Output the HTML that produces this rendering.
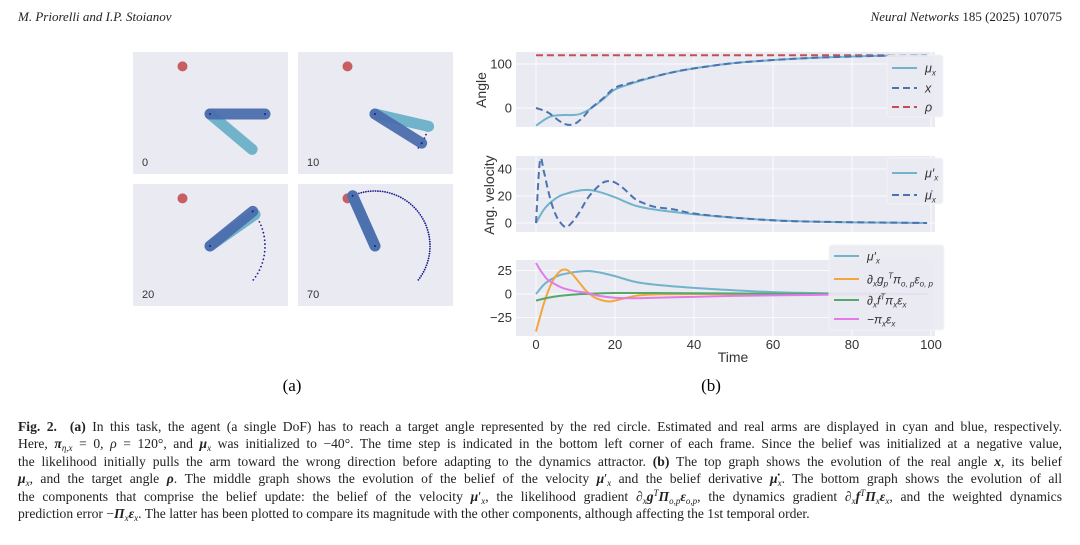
<!DOCTYPE html>
<html><head><meta charset="utf-8">
<style>
html,body{margin:0;padding:0;background:#fff;}
body{width:1080px;height:545px;position:relative;overflow:hidden;font-family:"Liberation Serif",serif;color:#222;}
.hdr{position:absolute;top:9px;font-size:13px;font-style:italic;}
#cap{position:absolute;left:18px;top:418px;width:1044px;font-size:13.6px;line-height:17.4px;}
#cap div{text-align:justify;text-align-last:justify;white-space:nowrap;height:17.4px;}
#cap div.last{text-align-last:left;}
#cap sub,#cap sup{font-size:9px;line-height:0;vertical-align:0;position:relative;}
#cap sub{top:3px;}
#cap sup{top:-5px;}
svg text{font-family:"Liberation Sans","DejaVu Sans",sans-serif;}
</style></head><body>
<div class="hdr" style="left:18px">M. Priorelli and I.P. Stoianov</div>
<div class="hdr" style="right:18px;font-style:normal"><i>Neural Networks</i> 185 (2025) 107075</div>

<svg id="fig" width="1080" height="545" style="position:absolute;left:0;top:0" xmlns="http://www.w3.org/2000/svg">
<g id="frames"></g>
<g id="plots"></g>
<text x="292" y="391" font-size="17" text-anchor="middle" style="font-family:'Liberation Serif',serif">(a)</text>
<text x="711" y="391" font-size="17" text-anchor="middle" style="font-family:'Liberation Serif',serif">(b)</text>
</svg>

<div id="cap">
<div><b>Fig. 2.</b>&nbsp; <b>(a)</b> In this task, the agent (a single DoF) has to reach a target angle represented by the red circle. Estimated and real arms are displayed in cyan and blue, respectively.</div>
<div>Here, <b><i>π</i></b><sub><i>η,x</i></sub> = 0, <i>ρ</i> = 120°, and <b><i>μ</i></b><sub><i>x</i></sub> was initialized to −40°. The time step is indicated in the bottom left corner of each frame. Since the belief was initialized at a negative value,</div>
<div>the likelihood initially pulls the arm toward the wrong direction before adapting to the dynamics attractor. <b>(b)</b> The top graph shows the evolution of the real angle <b><i>x</i></b>, its belief</div>
<div><b><i>μ</i></b><sub><i>x</i></sub>, and the target angle <b><i>ρ</i></b>. The middle graph shows the evolution of the belief of the velocity <b><i>μ</i></b>′<sub><i>x</i></sub> and the belief derivative <b><i>μ̇</i></b><sub><i>x</i></sub>. The bottom graph shows the evolution of all</div>
<div>the components that comprise the belief update: the belief of the velocity <b><i>μ</i></b>′<sub><i>x</i></sub>, the likelihood gradient ∂<sub><i>x</i></sub><b><i>g</i></b><sup><i>T</i></sup><b><i>Π</i></b><sub><i>o,p</i></sub><b><i>ε</i></b><sub><i>o,p</i></sub>, the dynamics gradient ∂<sub><i>x</i></sub><b><i>f</i></b><sup><i>T</i></sup><b><i>Π</i></b><sub><i>x</i></sub><b><i>ε</i></b><sub><i>x</i></sub>, and the weighted dynamics</div>
<div class="last">prediction error −<b><i>Π</i></b><sub><i>x</i></sub><b><i>ε</i></b><sub><i>x</i></sub>. The latter has been plotted to compare its magnitude with the other components, although affecting the 1st temporal order.</div>
</div>

<script>
// ---- chart data ----
const muT   = [0,3,5,7,9,11,13,15,17,20,24,28,34,40,50,60,70,80,90,99];
const muV   = [-40,-22,-17,-16,-16,-14,-6,6,20,42,55,66,80,90,102,109,114,117,119,120];
const xT    = [0,3,6,8,10,12,14,17,20,24,28,34,40,50,60,70,80,90,99];
const xV    = [0,-10,-30,-38,-35,-20,0,22,46,57,67,80,90,102,109,114,117,119,120];
const rhoV  = 120;
const vT    = [0,2,4,6,8,10,13,16,20,25,30,40,50,60,70,80,99];
const vV    = [0,10,16,20,22,23.5,24.5,23,19,13,10,6.5,4,2,1,0.5,0];
const dT    = [0,1,2,3,4,5,6,7.5,9,11,13,15,17,18.5,20,22,25,27,30,35,40,50,60,70,99];
const dV    = [0,46,38,25,14,6,1,-3,0,8,18,25,30,31,30,26,18,15,12,10,7,4,2,1,0];
const oT    = [0,2,4,6,7.5,9,11,13,15,17,18.5,20,23,26,30,40,99];
const oV    = [-40,-10,12,24,26,22,12,2,-4,-7,-8,-7,-4,-1.5,-0.5,0,0];
const gT    = [0,3,6,10,15,20,30,40,60,99];
const gV    = [-7,-4,-2,-0.5,0.5,1,1,0.8,0.3,0];
const pT    = [0,1,2,3,5,7,10,13,16,20,25,30,40,50,60,70,80,99];
const pV    = [33,26,20,15,10,6,3,1,-2,-4,-4.5,-4,-3,-2,-1.5,-1,-0.5,0];
const topTicks = [0,100];
const midTicks = [0,20,40];
const botTicks = [-25,0,25];
const timeTicks = [0,20,40,60,80,100];
// arm frames: step label, real angle, estimated angle (deg)
const frameSteps = ['0','10','20','70'];
const realAng = [0,-32,39,114];
const estAng  = [-40,-13,35,114];
const targetAng = 120;

const NS='http://www.w3.org/2000/svg';
function el(tag,attrs,parent){const e=document.createElementNS(NS,tag);for(const k in attrs)e.setAttribute(k,attrs[k]);parent.appendChild(e);return e;}

// ---- arm frames ----
const F=document.getElementById('frames');
const panels=[[133,52],[298,52],[133,184],[298,184]];
const L=55;
const trailEnd=[null,-10,37,116];
panels.forEach((p,i)=>{
  const g=el('g',{},F);
  
  
  const bg=el('rect',{x:p[0],y:p[1],width:155,height:122,fill:'#eaeaf2'},g);
  
  
  const sx=p[0]+77, sy=p[1]+62;
  const tr=targetAng*Math.PI/180;
  const tgt=el('circle',{cx:sx+L*Math.cos(tr),cy:sy-L*Math.sin(tr),r:5,fill:'#c44e52',opacity:0.9},g);
  
  
  if(i>0){
    const step=i==3?2.5:4;
    for(let a=-38;a<=trailEnd[i];a+=step){
      const r=a*Math.PI/180;
      el('circle',{cx:sx+L*Math.cos(r),cy:sy-L*Math.sin(r),r:0.9,fill:'#1a1a8c'},g);
    }
  }
  const er=estAng[i]*Math.PI/180, rr=realAng[i]*Math.PI/180;
  const est=el('line',{x1:sx,y1:sy,x2:sx+L*Math.cos(er),y2:sy-L*Math.sin(er),stroke:'#72b3cc','stroke-width':11,'stroke-linecap':'round'},g);
  
  
  const real=el('line',{x1:sx,y1:sy,x2:sx+L*Math.cos(rr),y2:sy-L*Math.sin(rr),stroke:'#4c6eae','stroke-width':11,'stroke-linecap':'round',opacity:0.95},g);
  
  
  el('circle',{cx:sx,cy:sy,r:1,fill:'#1a1a8c'},g);
  el('circle',{cx:sx+L*Math.cos(rr),cy:sy-L*Math.sin(rr),r:1,fill:'#1a1a8c'},g);
  const t=el('text',{x:p[0]+9,y:p[1]+114,'font-size':11,fill:'#333'},g);
  t.textContent=frameSteps[i];
  
  
});

// ---- plots ----
const P=document.getElementById('plots');
const X=t=>536+t*3.95;
function spline(ts,vs,Y){
  const pts=ts.map((t,i)=>[X(t),Y(vs[i])]);
  let d='M'+pts[0][0].toFixed(2)+','+pts[0][1].toFixed(2);
  for(let i=0;i<pts.length-1;i++){
    const p0=pts[Math.max(0,i-1)],p1=pts[i],p2=pts[i+1],p3=pts[Math.min(pts.length-1,i+2)];
    const c1=[p1[0]+(p2[0]-p0[0])/6,p1[1]+(p2[1]-p0[1])/6];
    const c2=[p2[0]-(p3[0]-p1[0])/6,p2[1]-(p3[1]-p1[1])/6];
    d+=' C'+c1.map(v=>v.toFixed(2))+' '+c2.map(v=>v.toFixed(2))+' '+p2.map(v=>v.toFixed(2));
  }
  return d;
}
function axes(y0,y1,Y,ticks,name){
  const g=el('g',{},P);
  
  
  el('rect',{x:516,y:y0,width:419,height:y1-y0,fill:'#eaeaf2'},g);
  timeTicks.forEach(t=>el('line',{x1:X(t),x2:X(t),y1:y0,y2:y1,stroke:'#fff','stroke-width':0.8},g));
  ticks.forEach(v=>{
    el('line',{x1:516,x2:935,y1:Y(v),y2:Y(v),stroke:'#fff','stroke-width':0.8},g);
    const t=el('text',{x:512,y:Y(v)+4.5,'font-size':13,'text-anchor':'end',fill:'#333'},g);
    t.textContent=v<0?'\u2212'+(-v):String(v);
    
    
  });
  return g;
}
function line(g,ts,vs,Y,color,dash,name){
  const p=el('path',{d:spline(ts,vs,Y),fill:'none',stroke:color,'stroke-width':2,'stroke-dasharray':dash||'none'},g);
  
  
}
function legend(g,x,y,w,h,items,fs){
  const lg=el('g',{},g);
  
  
  el('rect',{x:x,y:y,width:w,height:h,rx:3,fill:'#eaeaf2',stroke:'#f4f4f8','stroke-width':1,opacity:0.9},lg);
  items.forEach(it=>{
    el('line',{x1:x+5,x2:x+30,y1:it.y,y2:it.y,stroke:it.c,'stroke-width':2,'stroke-dasharray':it.d||'none'},lg);
    const t=el('text',{x:x+38,y:it.y+4.5,'font-size':fs||12.5,fill:'#333','font-style':'italic'},lg);
    t.innerHTML=it.t;
    
    
  });
}
const sub=(s)=>'<tspan font-size="8" baseline-shift="-3">'+s+'</tspan>';
const sup=(s)=>'<tspan font-size="8" baseline-shift="5">'+s+'</tspan>';

// top
const Yt=v=>108-v*0.44;
const gt=axes(52,127,Yt,topTicks,'angle-plot');
line(gt,[0,99],[rhoV,rhoV],Yt,'#c44e52','7,4','rho-line');
line(gt,muT,muV,Yt,'#72b3cc',null,'mu-x-line');
line(gt,xT,xV,Yt,'#4c72b0','7,4','x-line');
legend(gt,887,55,56,62,[{y:68,c:'#72b3cc',t:'μ'+sub('x')},{y:88,c:'#4c72b0',d:'7,4',t:'x'},{y:107,c:'#c44e52',d:'7,4',t:'ρ'}]);
// middle
const Ym=v=>223-v*1.35;
const gm=axes(156,232,Ym,midTicks,'velocity-plot');
line(gm,vT,vV,Ym,'#72b3cc',null,'mu-prime-line');
line(gm,dT,dV,Ym,'#4c72b0','7,4','mu-dot-line');
legend(gm,887,158,56,46,[{y:173,c:'#72b3cc',t:'μ\u2032'+sub('x')},{y:195,c:'#4c72b0',d:'7,4',t:'μ\u0307'+sub('x')}]);
// bottom
const Yb=v=>294-v*0.94;
const gb=axes(260,336,Yb,botTicks,'components-plot');
line(gb,vT,vV,Yb,'#72b3cc',null,'mu-prime-line');
line(gb,oT,oV,Yb,'#f5a53a',null,'likelihood-gradient-line');
line(gb,gT,gV,Yb,'#55a868',null,'dynamics-gradient-line');
line(gb,pT,pV,Yb,'#e27be8',null,'prediction-error-line');
legend(gb,829,245,115,85,[
 {y:256,c:'#72b3cc',t:'μ\u2032'+sub('x')},
 {y:279,c:'#f5a53a',t:'∂'+sub('x')+'g'+sub('p')+sup('T')+'π'+sub('o, p')+'ε'+sub('o, p')},
 {y:300,c:'#55a868',t:'∂'+sub('x')+'f'+sup('T')+'π'+sub('x')+'ε'+sub('x')},
 {y:319,c:'#e27be8',t:'\u2212π'+sub('x')+'ε'+sub('x')}],12);
timeTicks.forEach(t=>{
  const tx=el('text',{x:X(t),y:349,'font-size':13,'text-anchor':'middle',fill:'#333'},P);
  tx.textContent=String(t);
  
  
});
const xl=el('text',{x:733,y:362,'font-size':14,'text-anchor':'middle',fill:'#333'},P);
xl.textContent='Time';


const a1=el('text',{x:0,y:0,'font-size':14,'text-anchor':'middle',fill:'#333',transform:'translate(486,90) rotate(-90)'},P);
a1.textContent='Angle';


const a2=el('text',{x:0,y:0,'font-size':14,'text-anchor':'middle',fill:'#333',transform:'translate(494,195) rotate(-90)'},P);
a2.textContent='Ang. velocity';


</script>
</body></html>
